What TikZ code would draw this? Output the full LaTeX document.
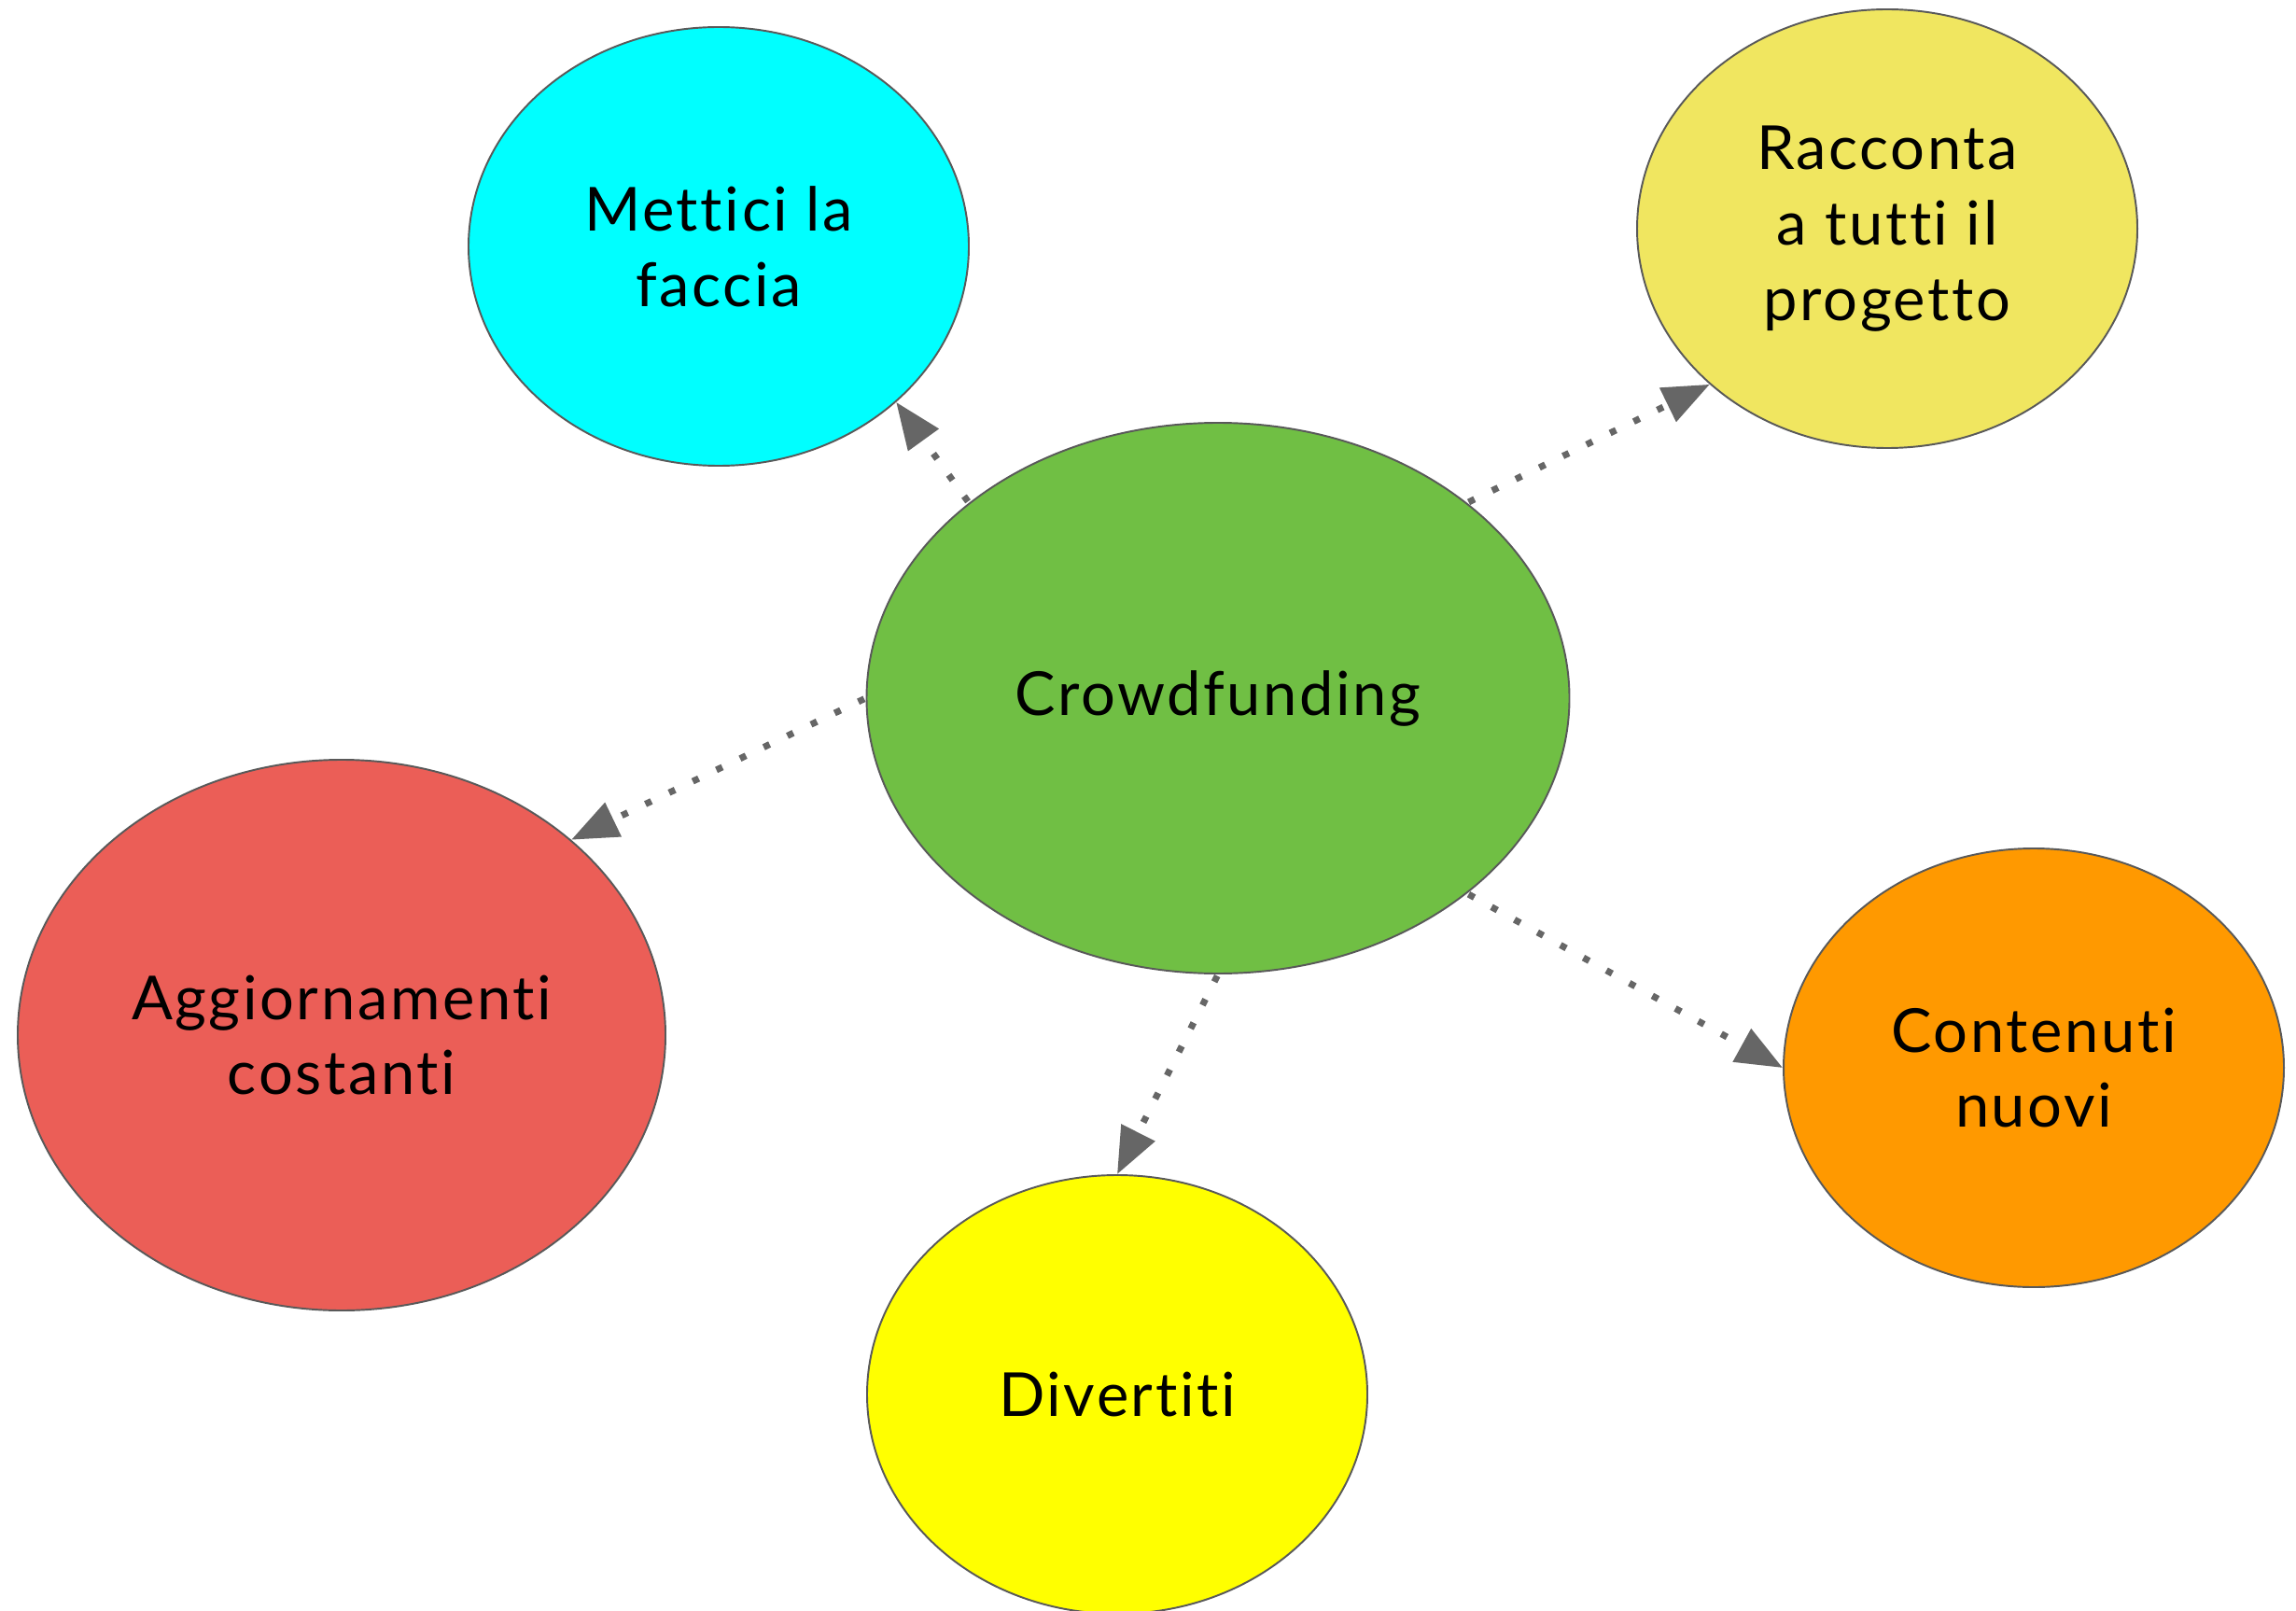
\documentclass[tikz,border=0pt]{standalone}
\usepackage{fontspec}
\setmainfont{Lato}[Ligatures=NoCommon,LetterSpace=4]
\usepackage{xcolor}
\usetikzlibrary{arrows.meta,shapes.geometric,positioning}
\definecolor{cfgreen}{HTML}{70BF44}
\definecolor{facecyan}{HTML}{00FFFF}
\definecolor{storyyellow}{HTML}{F0E660}
\definecolor{newsred}{HTML}{EB5E57}
\definecolor{funyellow}{HTML}{FFFF00}
\definecolor{contorange}{HTML}{FF9900}
\definecolor{edgegray}{HTML}{595959}
\definecolor{linkgray}{HTML}{666666}
\tikzset{
  idea/.style={ellipse, draw=edgegray, line width=0.55pt, inner sep=0pt,
    minimum width=5.36cm, minimum height=4.7cm, align=center,
    font=\fontsize{18.5}{23}\selectfont},
  link/.style={draw=linkgray, line width=2pt, dash pattern=on 2pt off 6pt,
    -{Triangle[length=0.5cm,width=0.39cm,fill=linkgray]}, shorten <=0.5pt}
}
\newcommand{\ideaat}[4][]{\node[idea,#1] (#2) at #3 {#4} ;}
\newcommand{\connect}[3][]{\draw[link,#1] (#2)--(#3) ;}
\begin{document}
\begin{tikzpicture}
    \useasboundingbox (0,0) rectangle (24.6,17.25);
        \ideaat[fill=cfgreen, minimum width=7.53cm, minimum height=5.9cm]{cf}{(13.05,9.77)}{Crowdfunding}
        \ideaat[fill=facecyan]{face}{(7.70,14.61)}{Mettici la\\faccia}
        \ideaat[fill=storyyellow]{story}{(20.22,14.80)}{Racconta\\a tutti il\\progetto}
        \ideaat[fill=newsred, minimum width=6.94cm, minimum height=5.9cm]{news}{(3.66,6.16)}{Aggiornamenti\\costanti}
        \ideaat[fill=funyellow]{fun}{(11.97,2.31)}{Divertiti}
        \ideaat[fill=contorange]{cont}{(21.79,5.81)}{Contenuti\\nuovi}
        \connect{cf.north west}{face.south east}
        \connect{cf.north east}{story.south west}
        \connect{cf.west}{news.north east}
        \connect{cf.south}{fun.north}
        \connect{cf.south east}{cont.west}
    \end{tikzpicture}
\end{document}
